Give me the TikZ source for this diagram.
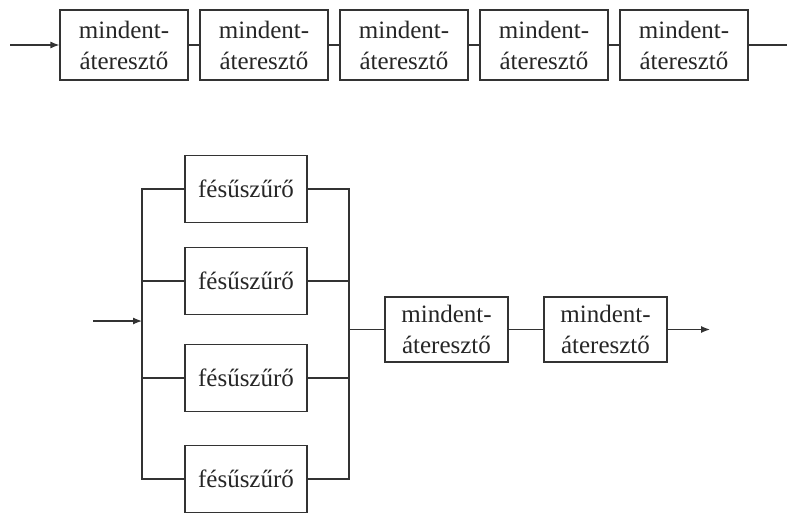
\documentclass[tikz,border=0pt]{standalone}
\usepackage{fontspec}
\setmainfont{Liberation Serif}
\usetikzlibrary{arrows.meta,positioning}
\tikzset{
	doboz/.style={draw=black!80, line width=1.2pt, inner sep=0pt, align=center, text=black!85,
		font=\fontsize{25}{31}\selectfont},
	mindent/.style={doboz, minimum width=128pt, minimum height=70pt},
	mindentb/.style={doboz, minimum width=123pt, minimum height=65pt},
	fesu/.style={doboz, minimum width=122pt, minimum height=67pt},
	vonal/.style={draw=black!80, line width=1.2pt},
	nyil/.style={vonal, -{Latex[length=9pt,width=7pt]}}
}

\begin{document}
\begin{tikzpicture}[x=1pt, y=-1pt]
		%%%%% START %%%%%
		\useasboundingbox (0, 0) rectangle (787, 512);
		
		% felso sor
		\node[mindent] (a1) at (124, 45) {mindent-\\áteresztő};
		\node[mindent] (a2) at (264, 45) {mindent-\\áteresztő};
		\node[mindent] (a3) at (404, 45) {mindent-\\áteresztő};
		\node[mindent] (a4) at (544, 45) {mindent-\\áteresztő};
		\node[mindent] (a5) at (684, 45) {mindent-\\áteresztő};
		\coordinate (bemenet1) at (10, 45);
		\coordinate (kimenet1) at (787, 45);
		
		\draw[nyil] (bemenet1) -- (a1);
		\draw[vonal] (a1) -- (a2);
		\draw[vonal] (a2) -- (a3);
		\draw[vonal] (a3) -- (a4);
		\draw[vonal] (a4) -- (a5);
		\draw[vonal] (a5) -- (kimenet1);
		
		% also resz
		\node[fesu] (f1) at (246, 189) {fésűszűrő};
		\node[fesu] (f2) at (246, 281) {fésűszűrő};
		\node[fesu] (f3) at (246, 378) {fésűszűrő};
		\node[fesu] (f4) at (246, 479) {fésűszűrő};
		
		\node[mindentb] (m1) at (446.5, 329.5) {mindent-\\áteresztő};
		\node[mindentb] (m2) at (605.5, 329.5) {mindent-\\áteresztő};
		
		\coordinate (bemenet2) at (93, 321);
		\coordinate (bal) at (142, 321);
		\coordinate (jobb) at (349, 329.5);
		\coordinate (kimenet2) at (710, 329.5);
		
		\draw[nyil] (bemenet2) -- (bal);
		\draw[vonal] (f1.west) -| (bal) |- (f4.west);
		\draw[vonal] (f2.west) -- (f2.west -| bal);
		\draw[vonal] (f3.west) -- (f3.west -| bal);
		
		\draw[vonal] (f1.east) -| (jobb) |- (f4.east);
		\draw[vonal] (f2.east) -- (f2.east -| jobb);
		\draw[vonal] (f3.east) -- (f3.east -| jobb);
		
		\draw[vonal] (jobb) -- (m1);
		\draw[vonal] (m1) -- (m2);
		\draw[nyil] (m2) -- (kimenet2);
		%%%%% END %%%%%
\end{tikzpicture}
\end{document}
